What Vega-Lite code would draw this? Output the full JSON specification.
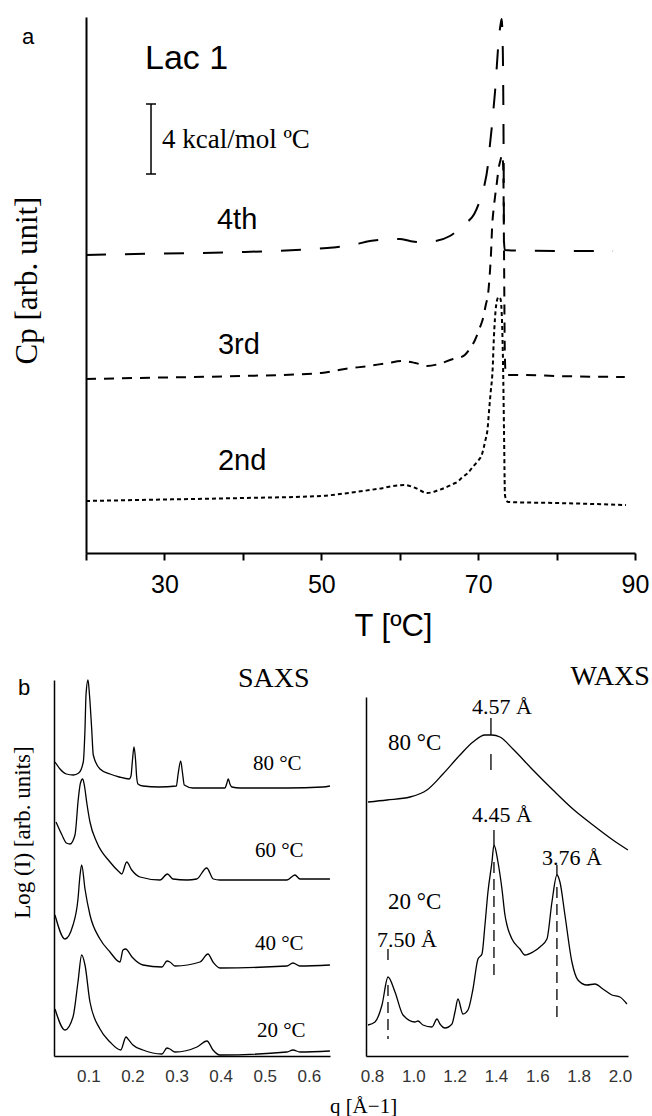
{
  "$schema": "https://vega.github.io/schema/vega-lite/v6.json",
  "background": "white",
  "padding": {"left": 11, "top": 14, "right": 0, "bottom": 0},
  "autosize": {"type": "pad"},
  "config": {
    "view": {"stroke": null},
    "axis": {"grid": false, "domainColor": "black", "tickColor": "black", "labelColor": "black", "titleColor": "black", "titleFontWeight": "normal"},
    "text": {"color": "black"}
  },
  "bounds": "flush",
  "spacing": 127,
  "vconcat": [
    {
      "width": 581,
      "height": 536,
      "layer": [
        {
          "data": {"values": [
            {"scan":"2nd","T":20,"Cp":52},{"scan":"2nd","T":30,"Cp":53.5},{"scan":"2nd","T":40,"Cp":55},{"scan":"2nd","T":50,"Cp":57},{"scan":"2nd","T":52.4,"Cp":59},{"scan":"2nd","T":57.1,"Cp":64},{"scan":"2nd","T":60.6,"Cp":68},{"scan":"2nd","T":62,"Cp":65},{"scan":"2nd","T":63.5,"Cp":60},{"scan":"2nd","T":65,"Cp":63},{"scan":"2nd","T":66.8,"Cp":69},{"scan":"2nd","T":67.5,"Cp":72},{"scan":"2nd","T":68,"Cp":76},{"scan":"2nd","T":68.7,"Cp":80},{"scan":"2nd","T":69.2,"Cp":85},{"scan":"2nd","T":69.85,"Cp":91},{"scan":"2nd","T":70.5,"Cp":99},{"scan":"2nd","T":70.9,"Cp":112},{"scan":"2nd","T":71.2,"Cp":124},{"scan":"2nd","T":71.4,"Cp":143},{"scan":"2nd","T":71.6,"Cp":161},{"scan":"2nd","T":71.85,"Cp":184},{"scan":"2nd","T":72,"Cp":214},{"scan":"2nd","T":72.15,"Cp":235},{"scan":"2nd","T":72.3,"Cp":248},{"scan":"2nd","T":72.6,"Cp":256},{"scan":"2nd","T":72.85,"Cp":254},{"scan":"2nd","T":73.05,"Cp":230},{"scan":"2nd","T":73.17,"Cp":191},{"scan":"2nd","T":73.3,"Cp":121},{"scan":"2nd","T":73.42,"Cp":58},{"scan":"2nd","T":73.6,"Cp":53},{"scan":"2nd","T":73.8,"Cp":51},{"scan":"2nd","T":80,"Cp":50},{"scan":"2nd","T":88.85,"Cp":48},
            {"scan":"3rd","T":20,"Cp":174},{"scan":"3rd","T":30,"Cp":175.5},{"scan":"3rd","T":40,"Cp":177},{"scan":"3rd","T":50,"Cp":180},{"scan":"3rd","T":53,"Cp":184},{"scan":"3rd","T":56,"Cp":187},{"scan":"3rd","T":58.5,"Cp":190},{"scan":"3rd","T":60.3,"Cp":192},{"scan":"3rd","T":62,"Cp":190},{"scan":"3rd","T":63.5,"Cp":187},{"scan":"3rd","T":65,"Cp":189},{"scan":"3rd","T":66.8,"Cp":194},{"scan":"3rd","T":67.5,"Cp":195},{"scan":"3rd","T":68.3,"Cp":198},{"scan":"3rd","T":69,"Cp":205},{"scan":"3rd","T":69.6,"Cp":213},{"scan":"3rd","T":70.2,"Cp":225},{"scan":"3rd","T":70.6,"Cp":234},{"scan":"3rd","T":71,"Cp":249},{"scan":"3rd","T":71.25,"Cp":258},{"scan":"3rd","T":71.5,"Cp":281},{"scan":"3rd","T":71.65,"Cp":301},{"scan":"3rd","T":71.77,"Cp":324},{"scan":"3rd","T":72,"Cp":346},{"scan":"3rd","T":72.15,"Cp":356},{"scan":"3rd","T":72.4,"Cp":371},{"scan":"3rd","T":72.6,"Cp":384},{"scan":"3rd","T":72.85,"Cp":393},{"scan":"3rd","T":73.05,"Cp":398},{"scan":"3rd","T":73.2,"Cp":386},{"scan":"3rd","T":73.3,"Cp":301},{"scan":"3rd","T":73.4,"Cp":201},{"scan":"3rd","T":73.5,"Cp":181},{"scan":"3rd","T":73.7,"Cp":178},{"scan":"3rd","T":76,"Cp":178},{"scan":"3rd","T":80,"Cp":177},{"scan":"3rd","T":88.7,"Cp":176},
            {"scan":"4th","T":20,"Cp":298},{"scan":"4th","T":30,"Cp":299.5},{"scan":"4th","T":40,"Cp":301},{"scan":"4th","T":48.9,"Cp":304},{"scan":"4th","T":51.5,"Cp":305.5},{"scan":"4th","T":54,"Cp":308},{"scan":"4th","T":56.2,"Cp":312},{"scan":"4th","T":58.5,"Cp":313.5},{"scan":"4th","T":60,"Cp":314},{"scan":"4th","T":61.3,"Cp":312},{"scan":"4th","T":62.5,"Cp":311},{"scan":"4th","T":64,"Cp":311.5},{"scan":"4th","T":66.4,"Cp":317},{"scan":"4th","T":68.3,"Cp":329},{"scan":"4th","T":69.5,"Cp":339},{"scan":"4th","T":70.2,"Cp":352},{"scan":"4th","T":70.75,"Cp":366},{"scan":"4th","T":71.25,"Cp":388},{"scan":"4th","T":71.5,"Cp":408},{"scan":"4th","T":71.77,"Cp":428},{"scan":"4th","T":72,"Cp":448},{"scan":"4th","T":72.15,"Cp":461},{"scan":"4th","T":72.4,"Cp":489},{"scan":"4th","T":72.6,"Cp":511},{"scan":"4th","T":72.85,"Cp":528},{"scan":"4th","T":73,"Cp":534},{"scan":"4th","T":73.15,"Cp":500},{"scan":"4th","T":73.25,"Cp":400},{"scan":"4th","T":73.3,"Cp":311},{"scan":"4th","T":73.4,"Cp":303},{"scan":"4th","T":75.1,"Cp":302.5},{"scan":"4th","T":80,"Cp":302},{"scan":"4th","T":87.2,"Cp":302}
          ]},
          "mark": {"type": "line", "color": "black", "strokeWidth": 2, "interpolate": "monotone"},
          "encoding": {
            "x": {"field": "T", "type": "quantitative",
              "scale": {"domain": [20, 90], "range": [32, 581], "nice": false, "zero": false},
              "axis": {"values": [20,30,40,50,60,70,80,90], "labelExpr": "datum.value % 20 == 10 ? datum.label : ''", "tickSize": 7, "tickWidth": 2, "domainWidth": 2, "labelFont": "Liberation Sans", "labelFontSize": 25, "labelPadding": 12, "labelFlush": false, "title": "T [ºC]", "titleFont": "Liberation Sans", "titleFontSize": 31, "titleX": 339, "titleY": 82, "titleBaseline": "alphabetic", "titleAlign": "center"}},
            "y": {"field": "Cp", "type": "quantitative",
              "scale": {"domain": [0, 536], "nice": false, "zero": false},
              "axis": {"labels": false, "ticks": false, "domainWidth": 2, "offset": -32, "title": "Cp [arb. unit]", "titleFont": "Liberation Serif", "titleFontSize": 31, "titleX": -50, "titleY": 263, "titleAngle": 270, "titleBaseline": "alphabetic", "titleAlign": "center"}},
            "strokeDash": {"field": "scan", "type": "nominal", "scale": {"domain": ["2nd","3rd","4th"], "range": [[4,3],[10,8],[20,19]]}, "legend": null}
          }
        },
        {
          "data": {"values": [
            {"T":28.29,"T2":28.29,"Cp":379,"Cp2":449},
            {"T":27.65,"T2":28.93,"Cp":449,"Cp2":449},
            {"T":27.65,"T2":28.93,"Cp":379,"Cp2":379}
          ]},
          "mark": {"type": "rule", "color": "black", "strokeWidth": 1.5},
          "encoding": {
            "x": {"field": "T", "type": "quantitative"},
            "x2": {"field": "T2"},
            "y": {"field": "Cp", "type": "quantitative"},
            "y2": {"field": "Cp2"}
          }
        },
        {
          "data": {"values": [{"T":11.84,"Cp":509,"label":"a"}]},
          "mark": {"type": "text", "font": "Liberation Sans", "fontSize": 22, "align": "left", "baseline": "alphabetic"},
          "encoding": {"x": {"field": "T", "type": "quantitative"}, "y": {"field": "Cp", "type": "quantitative"}, "text": {"field": "label"}}
        },
        {
          "data": {"values": [{"T":27.52,"Cp":484,"label":"Lac 1"}]},
          "mark": {"type": "text", "font": "Liberation Sans", "fontSize": 34, "align": "left", "baseline": "alphabetic"},
          "encoding": {"x": {"field": "T", "type": "quantitative"}, "y": {"field": "Cp", "type": "quantitative"}, "text": {"field": "label"}}
        },
        {
          "data": {"values": [{"T":29.69,"Cp":405,"label":"4 kcal/mol ºC"}]},
          "mark": {"type": "text", "font": "Liberation Serif", "fontSize": 27, "align": "left", "baseline": "alphabetic"},
          "encoding": {"x": {"field": "T", "type": "quantitative"}, "y": {"field": "Cp", "type": "quantitative"}, "text": {"field": "label"}}
        },
        {
          "data": {"values": [{"T":36.7,"Cp":324,"label":"4th"},{"T":36.83,"Cp":199,"label":"3rd"},{"T":36.83,"Cp":83,"label":"2nd"}]},
          "mark": {"type": "text", "font": "Liberation Sans", "fontSize": 29, "align": "left", "baseline": "alphabetic"},
          "encoding": {"x": {"field": "T", "type": "quantitative"}, "y": {"field": "Cp", "type": "quantitative"}, "text": {"field": "label"}}
        }
      ]
    },
    {
      "bounds": "flush",
      "spacing": 36,
      "hconcat": [
        {
          "width": 276,
          "height": 376,
          "layer": [
            {
              "data": {"values": [
                {"temp":"80","q":0.0243,"I":294},{"temp":"80","q":0.0356,"I":287},{"temp":"80","q":0.05,"I":282},{"temp":"80","q":0.0658,"I":281},{"temp":"80","q":0.078,"I":283},{"temp":"80","q":0.0884,"I":294},{"temp":"80","q":0.0923,"I":327},{"temp":"80","q":0.0946,"I":361},{"temp":"80","q":0.0991,"I":376},{"temp":"80","q":0.1025,"I":361},{"temp":"80","q":0.1075,"I":327},{"temp":"80","q":0.1111,"I":301},{"temp":"80","q":0.1263,"I":287},{"temp":"80","q":0.149,"I":282},{"temp":"80","q":0.17,"I":279},{"temp":"80","q":0.1925,"I":277},{"temp":"80","q":0.1966,"I":280},{"temp":"80","q":0.2,"I":296},{"temp":"80","q":0.2034,"I":309},{"temp":"80","q":0.207,"I":296},{"temp":"80","q":0.2095,"I":279},{"temp":"80","q":0.2125,"I":272},{"temp":"80","q":0.2238,"I":270},{"temp":"80","q":0.26,"I":269},{"temp":"80","q":0.2995,"I":270},{"temp":"80","q":0.3035,"I":282},{"temp":"80","q":0.3093,"I":295},{"temp":"80","q":0.3135,"I":283},{"temp":"80","q":0.3175,"I":271},{"temp":"80","q":0.3372,"I":268},{"temp":"80","q":0.4098,"I":268},{"temp":"80","q":0.4135,"I":272},{"temp":"80","q":0.4173,"I":277},{"temp":"80","q":0.421,"I":272},{"temp":"80","q":0.4256,"I":269},{"temp":"80","q":0.4438,"I":268},{"temp":"80","q":0.55,"I":268},{"temp":"80","q":0.632,"I":269},{"temp":"80","q":0.6479,"I":270},
                {"temp":"60","q":0.0265,"I":234},{"temp":"60","q":0.0401,"I":221},{"temp":"60","q":0.05,"I":213},{"temp":"60","q":0.0583,"I":212},{"temp":"60","q":0.0696,"I":221},{"temp":"60","q":0.0771,"I":257},{"temp":"60","q":0.082,"I":273},{"temp":"60","q":0.0871,"I":277},{"temp":"60","q":0.0915,"I":269},{"temp":"60","q":0.0961,"I":254},{"temp":"60","q":0.1036,"I":234},{"temp":"60","q":0.1188,"I":214},{"temp":"60","q":0.149,"I":194},{"temp":"60","q":0.17,"I":184},{"temp":"60","q":0.1756,"I":182},{"temp":"60","q":0.1869,"I":194},{"temp":"60","q":0.1983,"I":186},{"temp":"60","q":0.217,"I":179},{"temp":"60","q":0.2624,"I":176},{"temp":"60","q":0.2793,"I":182},{"temp":"60","q":0.2918,"I":177},{"temp":"60","q":0.3236,"I":176},{"temp":"60","q":0.3456,"I":177},{"temp":"60","q":0.3683,"I":188},{"temp":"60","q":0.3834,"I":177},{"temp":"60","q":0.3984,"I":176},{"temp":"60","q":0.5503,"I":176},{"temp":"60","q":0.5685,"I":181},{"temp":"60","q":0.5798,"I":177},{"temp":"60","q":0.6479,"I":177},
                {"temp":"40","q":0.0243,"I":141},{"temp":"40","q":0.0469,"I":117},{"temp":"40","q":0.0651,"I":131},{"temp":"40","q":0.0764,"I":157},{"temp":"40","q":0.0808,"I":180},{"temp":"40","q":0.0848,"I":191},{"temp":"40","q":0.0923,"I":167},{"temp":"40","q":0.1036,"I":141},{"temp":"40","q":0.1263,"I":117},{"temp":"40","q":0.149,"I":104},{"temp":"40","q":0.1717,"I":94},{"temp":"40","q":0.1785,"I":106},{"temp":"40","q":0.1845,"I":107},{"temp":"40","q":0.1989,"I":99},{"temp":"40","q":0.2238,"I":91},{"temp":"40","q":0.2669,"I":89},{"temp":"40","q":0.2782,"I":95},{"temp":"40","q":0.285,"I":94},{"temp":"40","q":0.2964,"I":90},{"temp":"40","q":0.3531,"I":94},{"temp":"40","q":0.3712,"I":102},{"temp":"40","q":0.3826,"I":94},{"temp":"40","q":0.3984,"I":88},{"temp":"40","q":0.5503,"I":90},{"temp":"40","q":0.564,"I":93},{"temp":"40","q":0.5798,"I":90},{"temp":"40","q":0.6479,"I":91},
                {"temp":"20","q":0.0243,"I":47},{"temp":"20","q":0.0469,"I":26},{"temp":"20","q":0.0651,"I":39},{"temp":"20","q":0.0764,"I":74},{"temp":"20","q":0.0848,"I":101},{"temp":"20","q":0.0923,"I":91},{"temp":"20","q":0.1036,"I":54},{"temp":"20","q":0.1263,"I":27},{"temp":"20","q":0.149,"I":14},{"temp":"20","q":0.1733,"I":6},{"temp":"20","q":0.1853,"I":19},{"temp":"20","q":0.1898,"I":17},{"temp":"20","q":0.2011,"I":11},{"temp":"20","q":0.2238,"I":6},{"temp":"20","q":0.2669,"I":2},{"temp":"20","q":0.2782,"I":8},{"temp":"20","q":0.285,"I":7},{"temp":"20","q":0.2964,"I":4},{"temp":"20","q":0.3463,"I":9},{"temp":"20","q":0.369,"I":15},{"temp":"20","q":0.3826,"I":6},{"temp":"20","q":0.3984,"I":1},{"temp":"20","q":0.5503,"I":4},{"temp":"20","q":0.564,"I":6},{"temp":"20","q":0.5798,"I":4},{"temp":"20","q":0.6479,"I":5}
              ]},
              "mark": {"type": "line", "color": "black", "strokeWidth": 1.3, "interpolate": "monotone"},
              "encoding": {
                "x": {"field": "q", "type": "quantitative",
                  "scale": {"domain": [0.022, 0.648], "nice": false, "zero": false},
                  "axis": {"values": [0.1,0.2,0.3,0.4,0.5,0.6], "format": ".1f", "ticks": false, "tickSize": 0, "labelPadding": 12, "labelFont": "Liberation Sans", "labelFontSize": 17, "labelColor": "#333", "domainWidth": 1.5, "labelFlush": false, "title": null}},
                "y": {"field": "I", "type": "quantitative",
                  "scale": {"domain": [0, 376], "nice": false, "zero": false},
                  "axis": {"labels": false, "ticks": false, "domainWidth": 1.5, "title": "Log (I) [arb. units]", "titleFont": "Liberation Serif", "titleFontSize": 23, "titleX": -25, "titleY": 152, "titleAngle": 270, "titleBaseline": "alphabetic", "titleAlign": "center"}},
                "detail": {"field": "temp", "type": "nominal"}
              }
            },
            {
              "data": {"values": [{"q":0.4392,"I":369,"label":"SAXS"}]},
              "mark": {"type": "text", "font": "Liberation Serif", "fontSize": 28, "align": "left", "baseline": "alphabetic"},
              "encoding": {"x": {"field": "q", "type": "quantitative"}, "y": {"field": "I", "type": "quantitative"}, "text": {"field": "label"}}
            },
            {
              "data": {"values": [{"q":0.4732,"I":286,"label":"80 °C"},{"q":0.4778,"I":199,"label":"60 °C"},{"q":0.4778,"I":106,"label":"40 °C"},{"q":0.4823,"I":19,"label":"20 °C"}]},
              "mark": {"type": "text", "font": "Liberation Serif", "fontSize": 21, "align": "left", "baseline": "alphabetic"},
              "encoding": {"x": {"field": "q", "type": "quantitative"}, "y": {"field": "I", "type": "quantitative"}, "text": {"field": "label"}}
            },
            {
              "data": {"values": [{"q":-0.0596,"I":361,"label":"b"}]},
              "mark": {"type": "text", "font": "Liberation Sans", "fontSize": 22, "align": "left", "baseline": "alphabetic"},
              "encoding": {"x": {"field": "q", "type": "quantitative"}, "y": {"field": "I", "type": "quantitative"}, "text": {"field": "label"}}
            }
          ]
        },
        {
          "width": 262,
          "height": 376,
          "layer": [
            {
              "data": {"values": [
                {"temp":"80","q":0.7807,"I":254},{"temp":"80","q":0.8726,"I":256},{"temp":"80","q":0.9839,"I":259},{"temp":"80","q":1.066,"I":266},{"temp":"80","q":1.1435,"I":282},{"temp":"80","q":1.2258,"I":301},{"temp":"80","q":1.2886,"I":314},{"temp":"80","q":1.3467,"I":321},{"temp":"80","q":1.3806,"I":321},{"temp":"80","q":1.4193,"I":319},{"temp":"80","q":1.4822,"I":307},{"temp":"80","q":1.5789,"I":286},{"temp":"80","q":1.6757,"I":266},{"temp":"80","q":1.7725,"I":247},{"temp":"80","q":1.8692,"I":231},{"temp":"80","q":1.966,"I":216},{"temp":"80","q":2.0386,"I":206},
                {"temp":"20","q":0.7807,"I":31},{"temp":"20","q":0.8145,"I":34},{"temp":"20","q":0.8484,"I":51},{"temp":"20","q":0.8774,"I":79},{"temp":"20","q":0.9113,"I":64},{"temp":"20","q":0.95,"I":41},{"temp":"20","q":1.0081,"I":34},{"temp":"20","q":1.0226,"I":35},{"temp":"20","q":1.0468,"I":31},{"temp":"20","q":1.0903,"I":29},{"temp":"20","q":1.1145,"I":37},{"temp":"20","q":1.129,"I":32},{"temp":"20","q":1.1532,"I":28},{"temp":"20","q":1.1871,"I":32},{"temp":"20","q":1.2016,"I":44},{"temp":"20","q":1.2161,"I":57},{"temp":"20","q":1.2403,"I":42},{"temp":"20","q":1.2645,"I":46},{"temp":"20","q":1.2887,"I":67},{"temp":"20","q":1.3129,"I":97},{"temp":"20","q":1.3322,"I":102},{"temp":"20","q":1.3467,"I":131},{"temp":"20","q":1.3612,"I":164},{"temp":"20","q":1.3806,"I":194},{"temp":"20","q":1.3903,"I":211},{"temp":"20","q":1.4096,"I":194},{"temp":"20","q":1.429,"I":167},{"temp":"20","q":1.4435,"I":141},{"temp":"20","q":1.4532,"I":131},{"temp":"20","q":1.4774,"I":117},{"temp":"20","q":1.516,"I":107},{"temp":"20","q":1.5402,"I":101},{"temp":"20","q":1.5789,"I":104},{"temp":"20","q":1.6128,"I":109},{"temp":"20","q":1.6467,"I":117},{"temp":"20","q":1.6709,"I":154},{"temp":"20","q":1.6951,"I":181},{"temp":"20","q":1.7096,"I":174},{"temp":"20","q":1.7338,"I":141},{"temp":"20","q":1.7676,"I":94},{"temp":"20","q":1.7967,"I":76},{"temp":"20","q":1.8402,"I":71},{"temp":"20","q":1.8789,"I":72},{"temp":"20","q":1.9176,"I":67},{"temp":"20","q":1.9612,"I":61},{"temp":"20","q":2.0,"I":59},{"temp":"20","q":2.0338,"I":52}
              ]},
              "mark": {"type": "line", "color": "black", "strokeWidth": 1.3, "interpolate": "monotone"},
              "encoding": {
                "x": {"field": "q", "type": "quantitative",
                  "scale": {"domain": [0.771, 2.039], "nice": false, "zero": false},
                  "axis": {"values": [0.8,1.0,1.2,1.4,1.6,1.8,2.0], "format": ".1f", "ticks": false, "tickSize": 0, "labelPadding": 12, "labelFont": "Liberation Sans", "labelFontSize": 17, "labelColor": "#333", "domainWidth": 1.5, "labelFlush": false, "title": "q [Å−1]", "titleFont": "Liberation Serif", "titleFontSize": 21, "titleX": -3, "titleY": 56, "titleBaseline": "alphabetic", "titleAlign": "center"}},
                "y": {"field": "I", "type": "quantitative",
                  "scale": {"domain": [0, 359], "range": [376, 17], "nice": false, "zero": false},
                  "axis": {"labels": false, "ticks": false, "domainWidth": 1.5, "title": null}},
                "detail": {"field": "temp", "type": "nominal"}
              }
            },
            {
              "data": {"values": [
                {"q":1.3757,"I":338,"I2":321},{"q":1.3757,"I":302,"I2":286},
                {"q":1.3903,"I":226,"I2":211},
                {"q":1.695,"I":191,"I2":181},
                {"q":0.8774,"I":107,"I2":96}
              ]},
              "mark": {"type": "rule", "color": "black", "strokeWidth": 1.3},
              "encoding": {
                "x": {"field": "q", "type": "quantitative"},
                "y": {"field": "I", "type": "quantitative"},
                "y2": {"field": "I2"}
              }
            },
            {
              "data": {"values": [
                {"q":1.3903,"I":194,"I2":79},
                {"q":1.695,"I":169,"I2":37},
                {"q":0.8774,"I":71,"I2":17}
              ]},
              "mark": {"type": "rule", "color": "black", "strokeWidth": 1.3, "strokeDash": [11, 6]},
              "encoding": {
                "x": {"field": "q", "type": "quantitative"},
                "y": {"field": "I", "type": "quantitative"},
                "y2": {"field": "I2"}
              }
            },
            {
              "data": {"values": [{"q":1.429,"I":342,"label":"4.57 Å"},{"q":1.429,"I":234,"label":"4.45 Å"},{"q":1.7677,"I":191,"label":"3.76 Å"}]},
              "mark": {"type": "text", "font": "Liberation Serif", "fontSize": 22, "align": "center", "baseline": "alphabetic"},
              "encoding": {"x": {"field": "q", "type": "quantitative"}, "y": {"field": "I", "type": "quantitative"}, "text": {"field": "label"}}
            },
            {
              "data": {"values": [{"q":0.8242,"I":109,"label":"7.50 Å"}]},
              "mark": {"type": "text", "font": "Liberation Serif", "fontSize": 22, "align": "left", "baseline": "alphabetic"},
              "encoding": {"x": {"field": "q", "type": "quantitative"}, "y": {"field": "I", "type": "quantitative"}, "text": {"field": "label"}}
            },
            {
              "data": {"values": [{"q":0.8774,"I":306,"label":"80 °C"},{"q":0.8774,"I":147,"label":"20 °C"}]},
              "mark": {"type": "text", "font": "Liberation Serif", "fontSize": 23, "align": "left", "baseline": "alphabetic"},
              "encoding": {"x": {"field": "q", "type": "quantitative"}, "y": {"field": "I", "type": "quantitative"}, "text": {"field": "label"}}
            },
            {
              "data": {"values": [{"q":2.145,"I":371,"label":"WAXS"}]},
              "mark": {"type": "text", "font": "Liberation Serif", "fontSize": 28, "align": "right", "baseline": "alphabetic"},
              "encoding": {"x": {"field": "q", "type": "quantitative"}, "y": {"field": "I", "type": "quantitative"}, "text": {"field": "label"}}
            }
          ]
        }
      ]
    }
  ]
}
